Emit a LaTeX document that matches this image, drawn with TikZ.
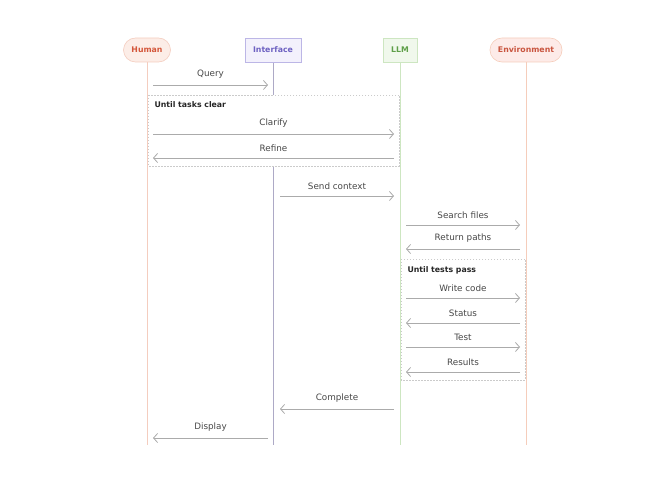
\documentclass[tikz,border=0pt]{standalone}
\usepackage{fontspec}
\setmainfont{DejaVu Sans}
\usepackage{tikz}
\usetikzlibrary{arrows.meta,positioning}

\definecolor{humanfill}{HTML}{FCEDE7}
\definecolor{humanline}{HTML}{F4CDBF}
\definecolor{humantext}{HTML}{D4573B}
\definecolor{uifill}{HTML}{F3F1FC}
\definecolor{uiline}{HTML}{BCB6E6}
\definecolor{uilife}{HTML}{ADA9C6}
\definecolor{uitext}{HTML}{6E62C2}
\definecolor{llmfill}{HTML}{F0F8EC}
\definecolor{llmline}{HTML}{CDE6C1}
\definecolor{llmtext}{HTML}{5E9F48}
\definecolor{envfill}{HTML}{FDEBE8}
\definecolor{envline}{HTML}{F5CDBB}
\definecolor{envtext}{HTML}{C9553F}
\definecolor{msggray}{HTML}{ABABAB}
\definecolor{loopgray}{HTML}{CBCBCB}

\tikzset{
  actor/.style={font=\fontsize{7.8}{9}\selectfont\bfseries, minimum height=24pt, inner xsep=8pt, line width=0.6pt},
  pill/.style={actor, rounded corners=12pt},
  msg/.style={draw=msggray, line width=0.8pt, -{Straight Barb[length=4pt,width=9pt,line width=0.8pt]}},
  msglabel/.style={font=\fontsize{8.8}{10}\selectfont, text=black!72},
  looptitle/.style={font=\fontsize{7.8}{9}\selectfont\bfseries, text=black!85, anchor=west},
  loopbox/.style={draw=loopgray, line width=0.6pt, dash pattern=on 1.5pt off 1.5pt}
}

\begin{document}
\begin{tikzpicture}[x=1pt, y=-1pt]
\useasboundingbox (0,0) rectangle (657,489);

% Lifelines
\draw[humanline, line width=0.7pt] (147,62) -- (147,445);
\draw[uilife, line width=0.7pt] (273,62) -- (273,445);
\draw[llmline, line width=0.7pt] (400,62) -- (400,445);
\draw[envline, line width=0.7pt] (526,62) -- (526,445);

% Participants
\node[pill, fill=humanfill, draw=humanline, text=humantext] (human) at (147,50) {Human};
\node[actor, fill=uifill, draw=uiline, text=uitext] (ui) at (273,50) {Interface};
\node[actor, fill=llmfill, draw=llmline, text=llmtext] (llm) at (400,50) {LLM};
\node[pill, fill=envfill, draw=envline, text=envtext] (env) at (526,50) {Environment};

% Loop frames
\draw[loopbox, fill=white] (148,95) rectangle (399,166);
\node[looptitle] (tasks) at (151,105) {Until tasks clear};
\draw[loopbox, fill=white] (401,259) rectangle (525,380);
\node[looptitle] (tests) at (404,270) {Until tests pass};

% Message end points
\coordinate (hq) at (153,85);   \coordinate (uq) at (268,85);
\coordinate (hc) at (153,134);  \coordinate (lc) at (394,134);
\coordinate (hr) at (153,158);  \coordinate (lr) at (394,158);
\coordinate (us) at (280,196);  \coordinate (ls) at (394,196);
\coordinate (lf) at (406,225);  \coordinate (ef) at (520,225);
\coordinate (lp) at (406,249);  \coordinate (ep) at (520,249);
\coordinate (lw) at (406,298);  \coordinate (ew) at (520,298);
\coordinate (lt) at (406,323);  \coordinate (et) at (520,323);
\coordinate (lx) at (406,347);  \coordinate (ex) at (520,347);
\coordinate (ly) at (406,372);  \coordinate (ey) at (520,372);
\coordinate (uc) at (280,409);  \coordinate (lo) at (394,409);
\coordinate (hd) at (153,438);  \coordinate (ud) at (268,438);

% Messages
\draw[msg] (hq) -- node[msglabel, above=2.5pt] (query) {Query} (uq);
\draw[msg] (hc) -- node[msglabel, above=2.5pt] (clarify) {Clarify} (lc);
\draw[msg] (lr) -- node[msglabel, above=2.5pt] (refine) {Refine} (hr);
\draw[msg] (us) -- node[msglabel, above=2.5pt] (send) {Send context} (ls);
\draw[msg] (lf) -- node[msglabel, above=2.5pt] (search) {Search files} (ef);
\draw[msg] (ep) -- node[msglabel, above=2.5pt] (paths) {Return paths} (lp);
\draw[msg] (lw) -- node[msglabel, above=2.5pt] (write) {Write code} (ew);
\draw[msg] (et) -- node[msglabel, above=2.5pt] (status) {Status} (lt);
\draw[msg] (lx) -- node[msglabel, above=2.5pt] (test) {Test} (ex);
\draw[msg] (ey) -- node[msglabel, above=2.5pt] (results) {Results} (ly);
\draw[msg] (lo) -- node[msglabel, above=2.5pt] (complete) {Complete} (uc);
\draw[msg] (ud) -- node[msglabel, above=2.5pt] (display) {Display} (hd);
\end{tikzpicture}
\end{document}
